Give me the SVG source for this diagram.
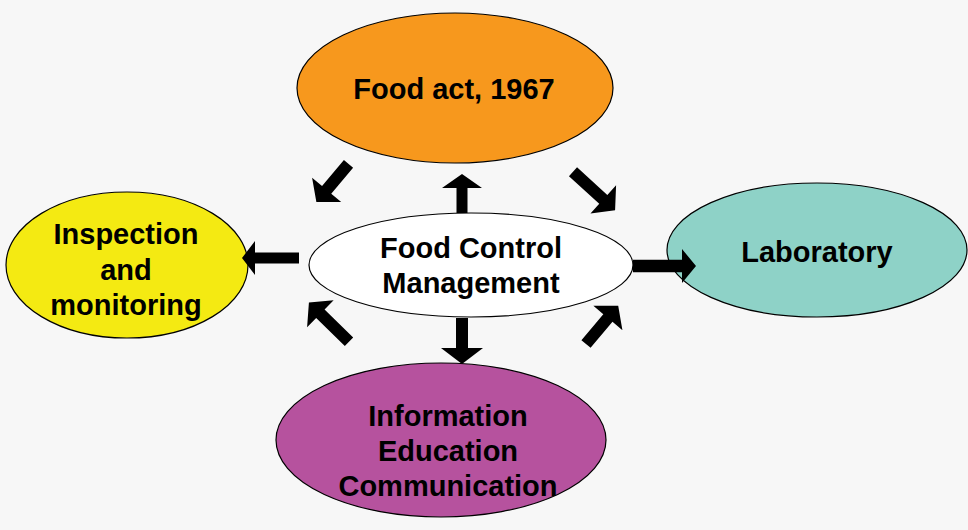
<svg xmlns="http://www.w3.org/2000/svg" width="968" height="530" viewBox="0 0 968 530">
<style>
.node{stroke:#000;stroke-width:1.2}
.lbl{font-family:"Liberation Sans",Arial,sans-serif;font-weight:bold;font-size:29px;fill:#000;text-anchor:middle}
.arrow{fill:#000;stroke:none}
</style>
<rect width="968" height="530" fill="#f7f7f7"/>
<g id="food-act">
<ellipse class="node" cx="455" cy="88" rx="158" ry="75" fill="#f7981d"/>
<text class="lbl" x="454" y="99">Food act, 1967</text>
</g>
<g id="inspection">
<ellipse class="node" cx="127" cy="265" rx="121" ry="73" fill="#f4ea12"/>
<text class="lbl" x="126" y="244">Inspection</text>
<text class="lbl" x="126" y="280">and</text>
<text class="lbl" x="126" y="315">monitoring</text>
</g>
<g id="laboratory">
<ellipse class="node" cx="817" cy="250" rx="150" ry="67" fill="#8ed2c7"/>
<text class="lbl" x="817" y="262">Laboratory</text>
</g>
<g id="information">
<ellipse class="node" cx="441" cy="440" rx="165" ry="77" fill="#b6529e"/>
<text class="lbl" x="448" y="426">Information</text>
<text class="lbl" x="448" y="461">Education</text>
<text class="lbl" x="448" y="496">Communication</text>
</g>
<g id="center">
<ellipse class="node" cx="471" cy="265" rx="162" ry="52" fill="#ffffff"/>
<text class="lbl" x="471" y="258">Food Control</text>
<text class="lbl" x="471" y="293">Management</text>
</g>
<g id="connectors">
<polygon class="arrow" transform="translate(462,213) rotate(-90)" points="0,-5.5 25,-5.5 25,-20 39,0 25,20 25,5.5 0,5.5"/>
<polygon class="arrow" transform="translate(462,318) rotate(90)" points="0,-6 30,-6 30,-21 46,0 30,21 30,6 0,6"/>
<polygon class="arrow" transform="translate(299,258) rotate(180)" points="0,-5.5 44,-5.5 44,-17 57,0 44,17 44,5.5 0,5.5"/>
<polygon class="arrow" transform="translate(633,266) rotate(0)" points="0,-6.3 49,-6.3 49,-17 63,0 49,17 49,6.3 0,6.3"/>
<polygon class="arrow" transform="translate(348.5,163.8) rotate(130)" points="0,-6 34,-6 34,-19 50,0 34,19 34,6 0,6"/>
<polygon class="arrow" transform="translate(573,171.7) rotate(42.4)" points="0,-6 41,-6 41,-19 57,0 41,19 41,6 0,6"/>
<polygon class="arrow" transform="translate(349,341.7) rotate(224.3)" points="0,-6 40,-6 40,-19 56,0 40,19 40,6 0,6"/>
<polygon class="arrow" transform="translate(586,344) rotate(-49.9)" points="0,-6 34,-6 34,-19 50,0 34,19 34,6 0,6"/>
</g>
</svg>
